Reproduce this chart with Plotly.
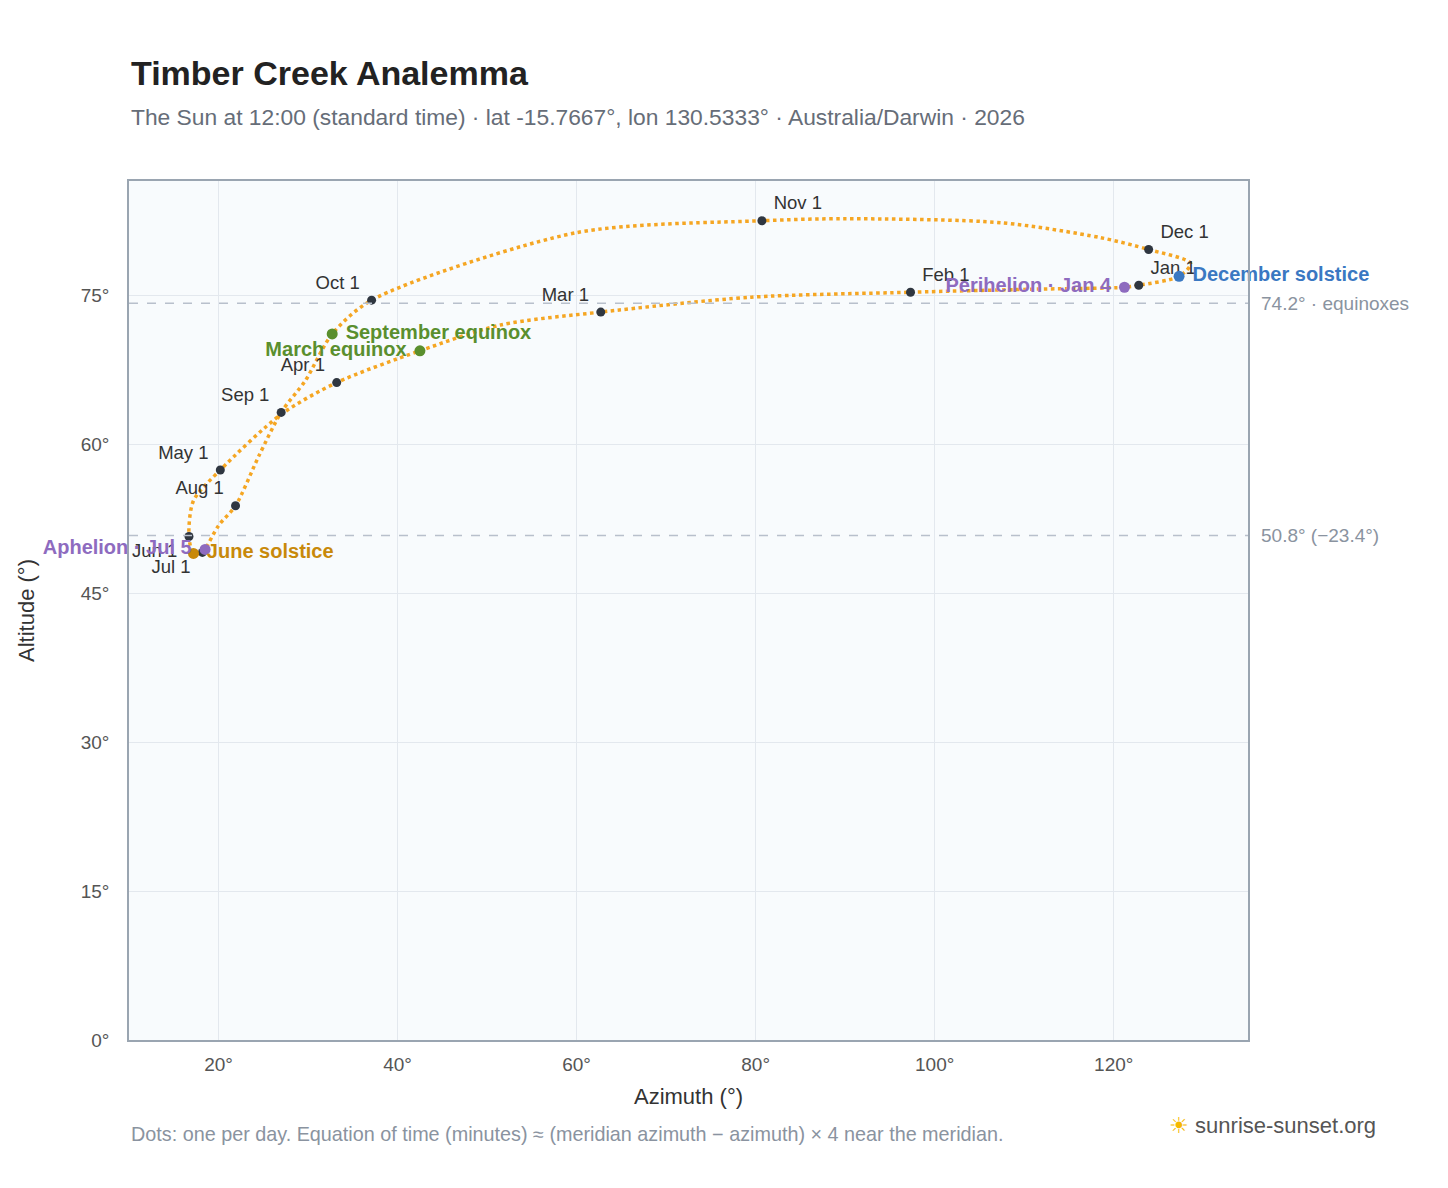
import plotly.graph_objects as go

# analemma path, ordered through the year
path_az = [122.8, 121.2, 110.7, 97.3, 79.5, 62.7, 51.5, 42.5, 33.2, 27.0, 20.2, 17.2, 16.7, 17.2, 18.2, 18.5, 20.0, 21.9, 24.5, 27.0, 29.7, 32.7, 37.1, 60.0, 80.7, 90.0, 107.4, 118.5, 123.9, 128.6, 127.3, 122.8]
path_alt = [76.0, 75.8, 75.6, 75.3, 74.8, 73.3, 72.0, 69.4, 66.2, 63.0, 57.4, 54.3, 50.7, 49.0, 49.1, 49.4, 51.8, 53.8, 58.8, 63.2, 66.4, 71.1, 74.5, 81.3, 82.5, 82.7, 82.3, 80.8, 79.6, 78.2, 76.9, 76.0]

months = ["Jan 1", "Feb 1", "Mar 1", "Apr 1", "May 1", "Jun 1", "Jul 1", "Aug 1", "Sep 1", "Oct 1", "Nov 1", "Dec 1"]
month_az = [122.8, 97.3, 62.7, 33.2, 20.2, 16.7, 18.2, 21.9, 27.0, 37.1, 80.7, 123.9]
month_alt = [76.0, 75.3, 73.3, 66.2, 57.4, 50.7, 49.1, 53.8, 63.2, 74.5, 82.5, 79.6]
month_pos = ["top right", "top right", "top left", "top left", "top left", "bottom left", "bottom left",
             "top left", "top left", "top left", "top right", "top right"]

events = ["March equinox", "September equinox", "June solstice", "December solstice", "Aphelion \u00b7 Jul 5", "Perihelion \u00b7 Jan 4"]
event_az = [42.5, 32.7, 17.2, 127.3, 18.5, 121.2]
event_alt = [69.4, 71.1, 49.0, 76.9, 49.4, 75.8]
event_col = ["#5a8f2e", "#5a8f2e", "#c8890a", "#3a78c2", "#8e6bbf", "#8e6bbf"]
event_pos = ["middle left", "middle right", "middle right", "middle right", "middle left", "middle left"]

ref_lines = [74.2, 50.8]
ref_labels = ["74.2\u00b0 \u00b7 equinoxes", "50.8\u00b0 (\u221223.4\u00b0)"]

x_ticks = [20, 40, 60, 80, 100, 120]
y_ticks = [0, 15, 30, 45, 60, 75]

fig = go.Figure()
fig.add_trace(go.Scatter(x=path_az, y=path_alt, mode="lines",
                         line=dict(color="#f5a623", width=3.5, dash="dot", shape="spline", smoothing=0.8),
                         hoverinfo="skip", showlegend=False))
fig.add_trace(go.Scatter(x=month_az, y=month_alt, mode="markers+text", text=[" " + m + " " for m in months],
                         textposition=month_pos, textfont=dict(size=18.5, color="#333"), cliponaxis=False,
                         marker=dict(color="#2f3640", size=9), showlegend=False))
fig.add_trace(go.Scatter(x=event_az, y=event_alt, mode="markers+text", text=[" " + e + " " for e in events],
                         textposition=event_pos, textfont=dict(size=20, color=event_col, family="Liberation Sans, Arial"),
                         texttemplate="<b>%{text}</b>", cliponaxis=False,
                         marker=dict(color=event_col, size=11), showlegend=False))

for v, lab in zip(ref_lines, ref_labels):
    fig.add_hline(y=v, line=dict(color="#b8c0cc", width=1.5, dash="dash"))
    fig.add_annotation(x=1.01, xref="paper", y=v, yref="y", text=lab, showarrow=False,
                       xanchor="left", font=dict(size=19, color="#8a93a0"))

def py(px):
    return (1039 - px) / 859

fig.add_annotation(x=0, xref="paper", y=py(72), yref="paper", xanchor="left", yanchor="middle",
                   text="<b>Timber Creek Analemma</b>", showarrow=False, font=dict(size=34, color="#222"))
fig.add_annotation(x=0, xref="paper", y=py(116), yref="paper", xanchor="left", yanchor="middle",
                   text="The Sun at 12:00 (standard time) \u00b7 lat -15.7667\u00b0, lon 130.5333\u00b0 \u00b7 Australia/Darwin \u00b7 2026",
                   showarrow=False, font=dict(size=22.8, color="#666d78"))
fig.add_annotation(x=0, xref="paper", y=py(1133), yref="paper", xanchor="left", yanchor="middle",
                   text="Dots: one per day. Equation of time (minutes) \u2248 (meridian azimuth \u2212 azimuth) \u00d7 4 near the meridian.",
                   showarrow=False, font=dict(size=19.8, color="#8a93a0"))
fig.add_annotation(x=1.116, xref="paper", y=py(1124), yref="paper", xanchor="right", yanchor="middle",
                   text="<span style='color:#f5b800'>\u2600</span> sunrise-sunset.org",
                   showarrow=False, font=dict(size=22, color="#555"))

fig.update_layout(
    width=1448, height=1188, margin=dict(l=121, r=208, t=173, b=156),
    paper_bgcolor="white", plot_bgcolor="#f8fbfd",
    font=dict(family="Liberation Sans, Arial", size=19, color="#555"),
    xaxis=dict(range=[10, 135], tickvals=x_ticks, ticktext=[f"{t}\u00b0" for t in x_ticks], automargin=False,
               ticklabelstandoff=6,
               title=dict(text="Azimuth (\u00b0)", font=dict(size=22, color="#333")),
               showgrid=True, gridcolor="#e3e8ee", zeroline=False,
               showline=True, linecolor="#9aa5b1", linewidth=1.5, mirror=True),
    yaxis=dict(range=[0, 86.5], tickvals=y_ticks, ticktext=[f"{t}\u00b0" for t in y_ticks], automargin=False,
               ticklabelstandoff=14,
               title=dict(text="Altitude (\u00b0)", font=dict(size=22, color="#333"), standoff=40),
               showgrid=True, gridcolor="#e3e8ee", zeroline=False,
               showline=True, linecolor="#9aa5b1", linewidth=1.5, mirror=True),
)
fig.write_html("out.html")
